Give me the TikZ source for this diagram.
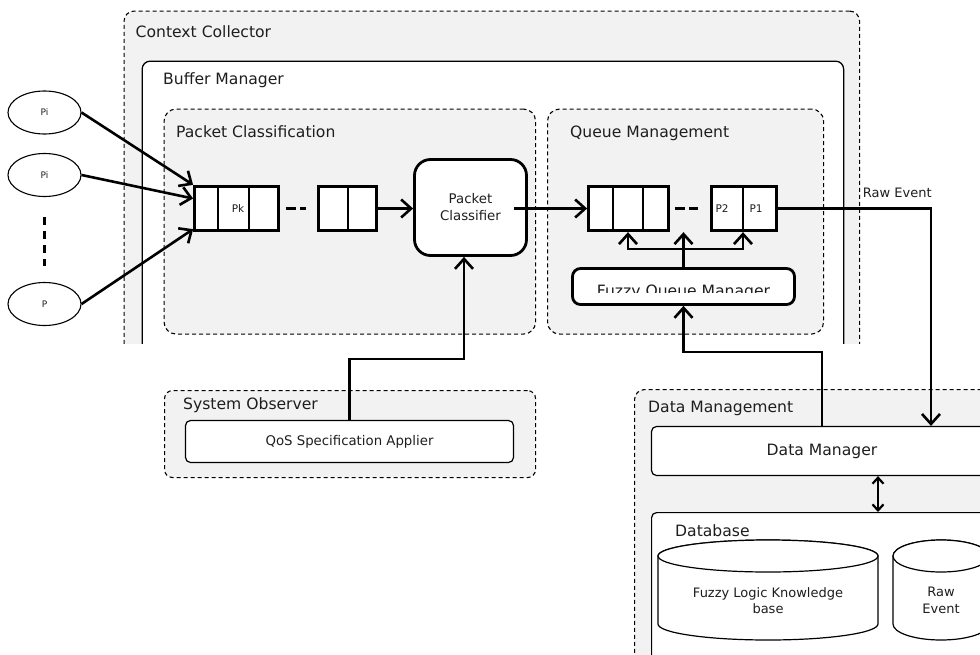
\documentclass[tikz,border=0pt]{standalone}
\usepackage{fontspec}
\setmainfont{DejaVu Sans}
\usetikzlibrary{positioning,arrows.meta,calc,shapes.geometric}
\definecolor{pgray}{RGB}{242,242,242}
\definecolor{tgray}{RGB}{30,30,30}
\begin{document}
\begin{tikzpicture}[x=1pt,y=-1pt,>={Straight Barb[length=10pt,width=18pt]},
    lbl/.style={font=\fontsize{15.6}{18}\selectfont,text=tgray,inner sep=0pt,anchor=base west},
    sml/.style={font=\fontsize{13}{16.5}\selectfont,text=tgray,align=center,inner sep=0pt},
    tny/.style={font=\fontsize{10.5}{12}\selectfont,text=tgray,inner sep=0pt},
    grp/.style={rectangle,draw,dash pattern=on 4pt off 3pt,line width=1.1pt,fill=pgray,
                rounded corners=10pt,anchor=north west,inner sep=0pt},
    frm/.style={rectangle,draw,line width=1.2pt,fill=white,rounded corners=5pt,inner sep=0pt},
    que/.style={rectangle,draw,line width=2.8pt,fill=white,minimum height=44.5pt,inner sep=0pt},
    prc/.style={rectangle,draw,line width=2.8pt,fill=white,inner sep=0pt},
    src/.style={ellipse,draw,line width=1.1pt,fill=white,minimum width=73pt,minimum height=43pt,
                inner sep=0pt,text=tgray,font=\fontsize{9}{10}\selectfont},
    div/.style={line width=1.4pt},
    gap/.style={line width=2.6pt,dash pattern=on 10pt off 4pt},
    ar/.style={->,line width=2.6pt},
    cyl/.style={draw,line width=1.2pt,fill=white}]
  \useasboundingbox (0,0) rectangle (980,654);
  \clip (0,0) rectangle (980,654);
  \begin{scope}
    \clip (0,0) rectangle (980,343.5);
    \node[grp,minimum width=735.5pt,minimum height=420pt] (ctx) at (123.5,10.5) {};
    \node[grp,solid,line width=1.3pt,fill=white,rounded corners=8pt,minimum width=701.5pt,
          minimum height=400pt] (buf) at (141.5,60.5) {};
    \node[grp,rounded corners=12pt,minimum width=371.5pt,minimum height=225pt] (pcl) at (163.5,108.5) {};
    \node[grp,rounded corners=12pt,minimum width=276pt,minimum height=225pt] (qm) at (547,108.5) {};
    \node[lbl] (ctxlbl) at ($(ctx.north west)+(12,27)$) {Context Collector};
    \node[lbl] (buflbl) at ($(buf.north west)+(21.5,23.5)$) {Buffer Manager};
    \node[lbl] (pcllbl) at ($(pcl.north west)+(12.5,29)$) {Packet Classification};
    \node[lbl] (qmlbl)  at ($(qm.north west)+(23,29)$) {Queue Management};
  \end{scope}

  \node[grp,rounded corners=8pt,minimum width=371pt,minimum height=87pt] (sobs) at (164,390) {};
  \node[lbl] (sobslbl) at ($(sobs.north west)+(19,19.5)$) {System Observer};
  \node[frm,minimum width=328pt,minimum height=42pt,font=\fontsize{13.3}{16}\selectfont,text=tgray]
        (qos) at (349.5,441.5) {QoS Specification Applier};

  \node[grp,minimum width=420pt,minimum height=330pt] (dmg) at (634,389) {};
  \node[lbl] (dmglbl) at ($(dmg.north west)+(14,23)$) {Data Management};
  \node[frm,minimum width=341pt,minimum height=49pt,font=\fontsize{15.6}{18}\selectfont,text=tgray]
        (dm) at (822,451) {Data Manager};
  \node[frm,anchor=north west,minimum width=400pt,minimum height=250pt] (db) at (651,512) {};
  \node[lbl] (dblbl) at ($(db.north west)+(24,24)$) {Database};
  \draw[cyl] (658,556) -- (658,624) arc[start angle=180,end angle=0,x radius=110,y radius=16]
        -- (878,556) arc[start angle=0,end angle=-180,x radius=110,y radius=16] -- cycle;
  \draw[cyl] (768,556) ellipse [x radius=110,y radius=16];
  \draw[cyl] (893,556) -- (893,624) arc[start angle=180,end angle=0,x radius=48,y radius=16]
        -- (989,556) arc[start angle=0,end angle=-180,x radius=48,y radius=16] -- cycle;
  \draw[cyl] (941,556) ellipse [x radius=48,y radius=16];
  \node[sml] (fzkb) at (768,600.5) {Fuzzy Logic Knowledge\\base};
  \node[sml] (rawdb) at (941,600.5) {Raw\\Event};

  \node[src] (pi1) at (44.5,112.5) {Pi};
  \node[src] (pi2) at (44.5,175) {Pi};
  \node[src] (pn)  at (44.5,304) {P};
  \draw[gap,dash pattern=on 8pt off 6pt] ($(pi2.south)+(0,20)$) -- ($(pn.north)+(0,-16)$);

  \node[que,minimum width=84pt] (q1) at (236.5,208.5) {};
  \node[que,minimum width=58pt] (q2) at (347.5,208.5) {};
  \node[prc,rounded corners=16pt,minimum width=112pt,minimum height=96pt,
        font=\fontsize{13.3}{17}\selectfont,text=tgray,align=center] (pc) at (470.5,207.5) {Packet\\Classifier};
  \node[que,minimum width=80pt] (q3) at (628.5,208.5) {};
  \node[que,minimum width=65pt] (q4) at (744,208.5) {};
  \draw[div](218,0 |- q1.north)--(218,0 |- q1.south);\draw[div](249,0 |- q1.north)--(249,0 |- q1.south);
  \draw[div](348,0 |- q2.north)--(348,0 |- q2.south);
  \draw[div](613,0 |- q3.north)--(613,0 |- q3.south);\draw[div](643,0 |- q3.north)--(643,0 |- q3.south);
  \draw[div](743,0 |- q4.north)--(743,0 |- q4.south);
  \node[tny] (pk) at (238,209) {Pk};
  \node[tny] (p2) at (722,209) {P2};
  \node[tny] (p1) at (756,209) {P1};

  \node[prc,rounded corners=8pt,minimum width=222pt,minimum height=36pt] (fqm) at (683.5,286.5) {};
  \begin{scope}
    \clip (fqm.north west) rectangle ($(fqm.south east)+(0,-13)$);
    \node[lbl,anchor=base] (fqmtxt) at (683.5,296) {Fuzzy Queue Manager};
  \end{scope}

  \draw[ar] (pi1.east) -- (q1.north west);
  \draw[ar] (pi2.east) -- ($(q1.west)+(0,-10)$);
  \draw[ar] (pn.east) -- ($(q1.south west)+(0,-3)$);
  \draw[gap,shorten <=6pt,shorten >=11pt] (q1.east) -- (q2.west);
  \draw[ar] (q2.east) -- (q2.east -| pc.west);
  \draw[ar] ($(q3.west -| pc.east)+(-14,0)$) -- (q3.west);
  \draw[gap,shorten <=5pt,shorten >=12pt] (q3.east) -- (q4.west);
  \coordinate (fl) at (628,249); \coordinate (fr) at (743,249);
  \draw[ar] (fqm.north) -- (fqm.north |- q3.south);
  \draw[ar,<->] (fl |- q3.south) -- (fl) -- (fr) -- (fr |- q4.south);
  \coordinate (rbend) at (931,208.5);
  \draw[ar] (q4.east) -- node[sml,pos=0.78,above=10pt] (rawlbl) {Raw Event} (rbend) -- (rbend |- dm.north);
  \coordinate (fbend) at (683.5,352);
  \draw[ar] (dm.north) |- (fbend) -- (fqm.south);
  \coordinate (qbend) at (464,359);
  \draw[ar] (qos.north) |- (qbend) -- (qbend |- pc.south);
  \draw[{Straight Barb[length=6pt,width=11pt]}-{Straight Barb[length=6pt,width=11pt]},line width=2.2pt]
        (878,0 |- dm.south) -- (878,0 |- db.north);
\end{tikzpicture}
\end{document}
